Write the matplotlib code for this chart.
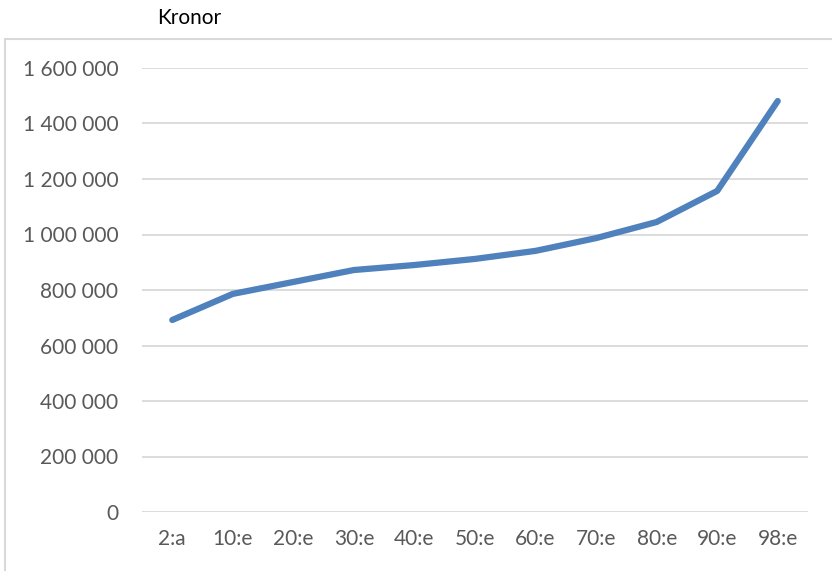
import matplotlib.pyplot as plt
from matplotlib.patches import Rectangle
from matplotlib.ticker import FuncFormatter

plt.rcParams['font.family'] = ['Lato', 'DejaVu Sans']

kategorier = ['2:a', '10:e', '20:e', '30:e', '40:e', '50:e', '60:e', '70:e', '80:e', '90:e', '98:e']
kronor = [692000, 786000, 829000, 872000, 890000, 912000, 941000, 987000, 1045000, 1157000, 1481000]
yticks = [0, 200000, 400000, 600000, 800000, 1000000, 1200000, 1400000, 1600000]

W, H = 832, 571
fig = plt.figure(figsize=(W/100, H/100), dpi=100)

# ram runt diagrammet
fig.patches.append(Rectangle((5/W, -0.1), 1.0, 1 - 39/H + 0.1, transform=fig.transFigure,
                             fill=False, edgecolor='#D9D9D9', linewidth=1.5))

ax = fig.add_axes([142/W, 1 - 512/H, (808-142)/W, (512-68)/H])
x = range(len(kategorier))
ax.plot(x, kronor, color='#4F81BD', linewidth=4.5, solid_capstyle='round', solid_joinstyle='round')

ax.set_xlim(-0.5, len(kategorier) - 0.5)
ax.set_ylim(0, 1600000)
ax.set_yticks(yticks)
ax.set_xticks(list(x))
ax.set_xticklabels(kategorier)
ax.yaxis.set_major_formatter(FuncFormatter(lambda v, p: f'{int(v):,}'.replace(',', ' ')))
ax.grid(axis='y', color='#D9D9D9', linewidth=1.3)
ax.set_axisbelow(True)
for sp in ax.spines.values():
    sp.set_visible(False)
ax.tick_params(length=0, labelsize=15, labelcolor='#595959')
ax.tick_params(axis='y', pad=17)
ax.tick_params(axis='x', pad=12)

fig.text(157/W, 1 - 18/H, 'Kronor', fontsize=15, color='#000000', va='center', ha='left')

fig.savefig('out.png', dpi=100)
